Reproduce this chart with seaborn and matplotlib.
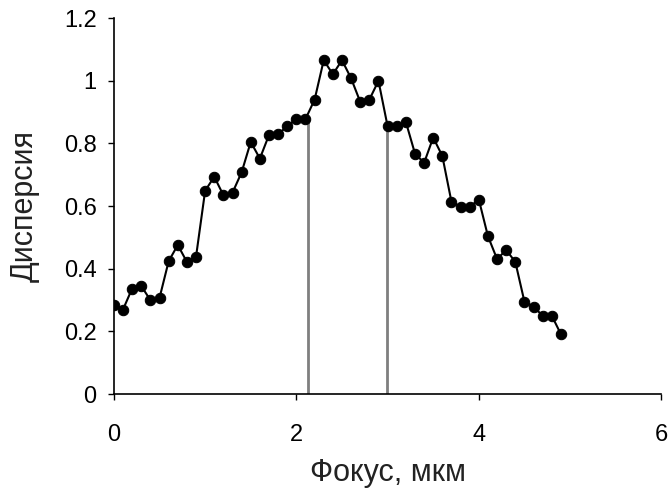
import matplotlib
matplotlib.use("Agg")
import matplotlib.pyplot as plt
import seaborn as sns
import numpy as np
import pandas as pd

focus = [0.0, 0.1, 0.2, 0.3, 0.4, 0.5, 0.6, 0.7, 0.8, 0.9,
         1.0, 1.1, 1.2, 1.3, 1.4, 1.5, 1.6, 1.7, 1.8, 1.9,
         2.0, 2.1, 2.2, 2.3, 2.4, 2.5, 2.6, 2.7, 2.8, 2.9,
         3.0, 3.1, 3.2, 3.3, 3.4, 3.5, 3.6, 3.7, 3.8, 3.9,
         4.0, 4.1, 4.2, 4.3, 4.4, 4.5, 4.6, 4.7, 4.8, 4.9]
dispersion = [0.286, 0.270, 0.337, 0.345, 0.300, 0.307, 0.424, 0.476, 0.422, 0.438,
              0.649, 0.694, 0.635, 0.643, 0.708, 0.805, 0.752, 0.827, 0.830, 0.855,
              0.878, 0.878, 0.940, 1.066, 1.021, 1.066, 1.008, 0.933, 0.940, 1.000,
              0.855, 0.855, 0.869, 0.768, 0.738, 0.819, 0.760, 0.614, 0.598, 0.598,
              0.621, 0.504, 0.431, 0.460, 0.422, 0.295, 0.279, 0.250, 0.250, 0.191]

# vertical markers (focus position, height)
marker_x = [2.13, 2.99]
marker_top = [0.88, 0.855]

df = pd.DataFrame({"focus": focus, "dispersion": dispersion})

sns.set_style("ticks")
plt.rcParams["font.family"] = ["Liberation Sans", "DejaVu Sans"]
plt.rcParams["xtick.major.size"] = 4.5
plt.rcParams["ytick.major.size"] = 4.5

fig = plt.figure(figsize=(6.7, 4.92), dpi=100)
ax = fig.add_axes([0.170, 0.199, 0.817, 0.764])

ax.vlines(marker_x, 0, marker_top, color="#7f7f7f", linewidth=2, zorder=1)
sns.lineplot(data=df, x="focus", y="dispersion", ax=ax, color="black",
             marker="o", markersize=7.5, markeredgecolor="black",
             linewidth=1.5, zorder=2)

ax.set_xlim(0, 6)
ax.set_ylim(0, 1.2)
ax.set_xticks([0, 2, 4, 6])
ax.set_yticks([0, 0.2, 0.4, 0.6, 0.8, 1.0, 1.2])
ax.set_yticklabels(["0", "0.2", "0.4", "0.6", "0.8", "1", "1.2"])
ax.tick_params(labelsize=17, width=1, colors="black")
ax.tick_params(axis="x", pad=17)
ax.tick_params(axis="y", pad=8)
for side in ["left", "bottom"]:
    ax.spines[side].set_linewidth(1.2)
    ax.spines[side].set_color("black")
sns.despine(ax=ax)

ax.set_xlabel("Фокус, мкм", fontsize=22, labelpad=9, color="#222222")
ax.set_ylabel("Дисперсия", fontsize=22, labelpad=17, color="#222222")

fig.savefig("out.png", dpi=100)
